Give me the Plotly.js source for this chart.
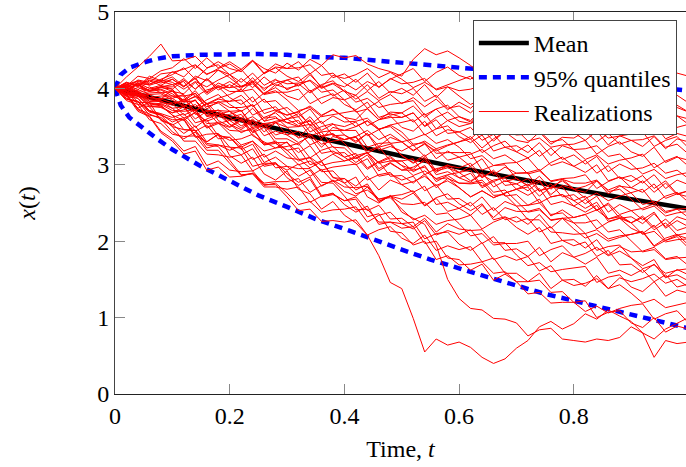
<!DOCTYPE html>
<html>
<head>
<meta charset="utf-8">
<script src="https://cdn.plot.ly/plotly-3.0.1.min.js"></script>
<style>
html,body{margin:0;padding:0;background:#fff;}
#chart{width:686px;height:467px;}
#chart svg text{font-family:'Liberation Serif','Times New Roman',serif !important;}
</style>
</head>
<body>
<div id="chart"></div>
<script>
const meanTime = [0,0.1,0.2,0.3,0.4,0.5,0.6,0.7,0.8,0.9,1.0];
const meanValues = [4.0,3.805,3.619,3.443,3.275,3.115,2.963,2.819,2.681,2.550,2.426];

const quantTime = [0,0.01,0.025,0.05,0.075,0.1,0.15,0.2,0.25,0.3,0.35,0.4,0.45,0.5,0.55,0.6,0.65,0.7,0.75,0.8,0.85,0.9,0.95,1.0];
const upperQuantile = [4.0,4.18,4.27,4.34,4.39,4.42,4.44,4.45,4.45,4.44,4.41,4.40,4.37,4.34,4.31,4.28,4.24,4.20,4.16,4.12,4.08,4.05,4.01,3.97];
const lowerQuantile = [4.0,3.78,3.62,3.47,3.33,3.20,2.98,2.79,2.60,2.45,2.29,2.16,2.02,1.89,1.76,1.64,1.53,1.42,1.31,1.22,1.13,1.04,0.96,0.86];

const simTime = [0,0.02,0.04,0.06,0.08,0.1,0.12,0.14,0.16,0.18,0.2,0.22,0.24,0.26,0.28,0.3,0.32,0.34,0.36,0.38,0.4,0.42,0.44,0.46,0.48,0.5,0.52,0.54,0.56,0.58,0.6,0.62,0.64,0.66,0.68,0.7,0.72,0.74,0.76,0.78,0.8,0.82,0.84,0.86,0.88,0.9,0.92,0.94,0.96,0.98,1.0];

const realizations = [
[4.0,3.92,3.74,3.82,3.58,3.52,3.60,3.38,3.30,3.40,3.12,3.02,3.10,2.88,2.80,2.92,2.68,2.62,2.42,2.52,2.34,2.24,2.08,1.81,1.46,1.38,0.99,0.55,0.72,0.64,0.68,0.61,0.48,0.40,0.46,0.60,0.70,0.88,0.95,0.85,0.92,1.05,0.98,1.1,1.02,0.95,0.8,0.72,0.85,0.92,1.0],
[4.0,3.94,4.08,3.88,3.86,3.98,3.78,3.70,3.80,3.58,3.50,3.60,3.38,3.30,3.22,3.30,3.08,2.96,3.04,2.84,2.76,2.84,2.58,2.50,2.60,2.38,2.30,2.22,1.95,1.5,1.25,1.12,1.1,0.99,0.98,0.93,0.76,0.84,0.86,0.72,0.70,0.68,0.72,0.70,0.74,0.88,0.80,0.48,0.70,0.66,0.68],
[4.0,3.92,3.72,3.64,3.44,3.34,3.18,3.24,2.99,3.05,2.93,2.91,2.92,2.74,2.74,2.58,2.40,2.42,2.26,2.27,2.25,2.28,2.08,2.15,2.19,2.04,1.97,2.08,1.88,1.94,1.89,1.93,1.73,1.78,1.58,1.58,1.47,1.58,1.38,1.49,1.42,1.45,1.51,1.38,1.43,1.32,1.19,1.24,1.13,1.17,1.20],
[4.0,3.86,3.83,3.65,3.62,3.50,3.46,3.45,3.26,3.24,3.06,2.87,2.88,2.71,2.71,2.68,2.71,2.51,2.59,2.63,2.48,2.38,2.46,2.22,2.25,2.17,2.19,1.97,2.00,1.78,1.76,1.62,1.70,1.49,1.57,1.47,1.47,1.49,1.33,1.34,1.20,1.08,1.15,1.06,1.12,1.16,1.18,0.98,1.05,1.09,0.93],
[4.0,3.96,3.93,3.80,3.77,3.65,3.46,3.45,3.28,3.26,3.23,3.22,2.98,3.02,3.02,2.83,2.73,2.81,2.58,2.61,2.53,2.58,2.40,2.47,2.29,2.30,2.19,2.30,2.12,2.23,2.16,2.14,2.15,1.98,1.98,1.82,1.68,1.72,1.60,1.63,1.65,1.67,1.46,1.53,1.56,1.40,1.34,1.47,1.28,1.36,1.32],
[4.0,3.93,3.95,3.88,3.90,3.90,3.90,3.66,3.71,3.71,3.53,3.42,3.49,3.26,3.28,3.19,3.22,3.00,3.05,2.83,2.82,2.67,2.75,2.52,2.59,2.49,2.48,2.51,2.35,2.37,2.23,2.07,2.10,1.95,1.97,1.97,2.00,1.81,1.89,1.94,1.79,1.70,1.79,1.58,1.62,1.55,1.63,1.47,1.56,1.40,1.44],
[4.0,3.92,3.73,3.67,3.60,3.43,3.34,3.43,3.22,3.26,3.19,3.25,3.07,3.14,2.96,2.98,2.85,2.93,2.72,2.80,2.71,2.70,2.72,2.55,2.57,2.42,2.28,2.34,2.22,2.27,2.29,2.34,2.16,2.25,2.31,2.18,2.09,2.18,1.97,2.01,1.94,1.99,1.80,1.88,1.69,1.70,1.59,1.70,1.52,1.63,1.56],
[4.0,3.89,3.87,3.70,3.66,3.56,3.62,3.44,3.52,3.34,3.36,3.23,3.31,3.10,3.18,3.09,3.07,3.09,2.91,2.92,2.76,2.62,2.67,2.55,2.59,2.61,2.66,2.47,2.57,2.62,2.49,2.40,2.49,2.28,2.32,2.25,2.30,2.12,2.19,2.01,2.02,1.91,2.02,1.82,1.93,1.86,1.87,1.92,1.77,1.80,1.68],
[4.0,4.01,3.90,3.92,3.81,3.80,3.65,3.72,3.49,3.56,3.45,3.44,3.46,3.28,3.29,3.14,3.00,3.05,2.93,2.97,2.99,3.01,2.80,2.87,2.90,2.74,2.64,2.72,2.48,2.51,2.43,2.51,2.35,2.44,2.28,2.32,2.22,2.35,2.17,2.30,2.24,2.24,2.28,2.12,2.15,2.01,1.86,1.89,1.76,1.78,1.79],
[4.0,3.90,3.91,3.78,3.79,3.71,3.70,3.72,3.54,3.55,3.40,3.26,3.31,3.18,3.22,3.24,3.28,3.09,3.19,3.24,3.10,3.00,3.08,2.85,2.88,2.80,2.85,2.66,2.74,2.55,2.56,2.46,2.58,2.40,2.52,2.46,2.47,2.50,2.35,2.37,2.24,2.10,2.15,2.03,2.07,2.09,2.12,1.93,2.01,2.06,1.91],
[4.0,4.03,4.07,4.00,4.04,3.99,3.82,3.84,3.70,3.71,3.70,3.71,3.49,3.54,3.56,3.39,3.29,3.37,3.15,3.18,3.10,3.15,2.96,3.04,2.85,2.86,2.76,2.88,2.70,2.82,2.76,2.76,2.80,2.64,2.67,2.53,2.38,2.41,2.28,2.30,2.31,2.35,2.16,2.25,2.30,2.17,2.10,2.21,2.01,2.08,2.03],
[4.0,3.87,3.83,3.71,3.67,3.62,3.67,3.49,3.60,3.66,3.53,3.46,3.57,3.38,3.44,3.39,3.44,3.26,3.33,3.15,3.16,3.03,3.13,2.92,3.02,2.93,2.93,2.97,2.81,2.83,2.70,2.58,2.66,2.57,2.63,2.68,2.71,2.50,2.58,2.61,2.46,2.38,2.47,2.26,2.30,2.24,2.31,2.15,2.24,2.08,2.11],
[4.0,4.01,3.90,3.94,3.95,3.87,3.77,3.85,3.63,3.66,3.58,3.62,3.42,3.49,3.29,3.29,3.16,3.25,3.05,3.14,3.05,3.09,3.16,3.03,3.09,2.99,2.86,2.92,2.82,2.87,2.90,2.93,2.72,2.80,2.83,2.68,2.60,2.69,2.48,2.52,2.46,2.55,2.40,2.50,2.35,2.40,2.28,2.38,2.17,2.27,2.19],
[4.0,3.92,3.92,3.77,3.75,3.68,3.76,3.60,3.70,3.54,3.58,3.48,3.60,3.43,3.55,3.49,3.50,3.53,3.38,3.41,3.28,3.12,3.16,3.02,3.05,3.05,3.08,2.87,2.95,2.98,2.83,2.77,2.90,2.71,2.79,2.75,2.82,2.65,2.75,2.58,2.61,2.49,2.59,2.38,2.48,2.40,2.43,2.49,2.37,2.42,2.31],
[4.0,4.04,3.96,4.02,3.94,3.96,3.84,3.94,3.73,3.83,3.75,3.75,3.78,3.61,3.63,3.49,3.35,3.40,3.27,3.31,3.33,3.36,3.15,3.23,3.27,3.12,3.03,3.13,2.92,2.96,2.90,2.98,2.83,2.93,2.78,2.82,2.73,2.85,2.68,2.81,2.76,2.76,2.80,2.65,2.68,2.55,2.41,2.46,2.33,2.37,2.39],
[4.0,3.92,3.95,3.83,3.86,3.81,3.83,3.89,3.76,3.81,3.70,3.57,3.63,3.52,3.57,3.60,3.63,3.43,3.50,3.54,3.39,3.31,3.41,3.19,3.24,3.18,3.26,3.11,3.21,3.06,3.10,2.98,3.08,2.87,2.97,2.89,2.90,2.94,2.78,2.81,2.68,2.56,2.63,2.53,2.59,2.63,2.68,2.49,2.59,2.64,2.51],
[4.0,3.98,3.97,3.85,3.84,3.74,3.61,3.68,3.57,3.63,3.66,3.71,3.52,3.62,3.68,3.55,3.50,3.63,3.45,3.53,3.50,3.56,3.38,3.46,3.28,3.30,3.18,3.28,3.08,3.18,3.10,3.14,3.20,3.08,3.13,3.03,2.88,2.92,2.79,2.82,2.83,2.87,2.69,2.78,2.84,2.70,2.64,2.75,2.56,2.62,2.58],
[4.0,3.96,4.01,3.97,4.02,4.05,4.09,3.89,3.98,4.02,3.88,3.79,3.89,3.67,3.72,3.65,3.70,3.51,3.57,3.38,3.39,3.29,3.41,3.24,3.36,3.30,3.34,3.40,3.28,3.33,3.23,3.08,3.12,2.99,3.02,3.03,3.09,2.92,3.03,3.10,2.98,2.90,3.00,2.79,2.84,2.78,2.86,2.69,2.79,2.62,2.66],
[4.0,4.02,3.92,3.96,3.98,3.90,3.85,3.97,3.79,3.86,3.83,3.91,3.76,3.86,3.71,3.75,3.63,3.73,3.54,3.64,3.56,3.57,3.61,3.47,3.50,3.37,3.25,3.31,3.21,3.26,3.30,3.34,3.16,3.25,3.31,3.17,3.09,3.19,2.99,3.04,2.98,3.06,2.89,2.99,2.82,2.86,2.76,2.87,2.69,2.80,2.74],
[4.0,3.94,3.96,3.83,3.83,3.78,3.86,3.71,3.81,3.66,3.70,3.61,3.74,3.57,3.70,3.65,3.69,3.77,3.65,3.72,3.62,3.50,3.57,3.46,3.52,3.56,3.59,3.39,3.47,3.51,3.37,3.29,3.39,3.18,3.23,3.17,3.26,3.11,3.22,3.07,3.13,3.01,3.11,2.91,3.01,2.94,2.96,3.02,2.89,2.93,2.82],
[4.0,4.07,4.03,4.11,4.07,4.12,4.02,4.14,3.95,4.07,4.01,4.03,4.08,3.93,3.97,3.85,3.71,3.75,3.63,3.66,3.68,3.71,3.51,3.59,3.64,3.49,3.44,3.57,3.38,3.46,3.43,3.49,3.32,3.40,3.23,3.25,3.16,3.29,3.12,3.25,3.20,3.21,3.25,3.11,3.14,3.01,2.88,2.94,2.82,2.87,2.90],
[4.0,4.15,4.28,4.42,4.58,4.36,4.37,4.42,4.27,4.31,4.18,4.02,4.06,3.92,3.95,3.95,3.99,3.80,3.88,3.93,3.79,3.72,3.82,3.62,3.67,3.62,3.68,3.50,3.59,3.41,3.43,3.34,3.47,3.31,3.44,3.39,3.40,3.44,3.30,3.33,3.20,3.07,3.13,3.01,3.06,3.09,3.14,2.96,3.05,3.11,2.98],
[4.0,4.02,4.04,3.97,3.99,3.93,3.82,3.90,3.80,3.87,3.92,3.99,3.82,3.94,4.01,3.90,3.85,3.98,3.80,3.88,3.85,3.91,3.74,3.83,3.65,3.68,3.56,3.67,3.47,3.58,3.50,3.54,3.61,3.50,3.56,3.46,3.31,3.35,3.23,3.26,3.27,3.32,3.14,3.24,3.30,3.17,3.11,3.23,3.03,3.10,3.06],
[4.0,4.08,4.02,4.16,4.10,4.22,4.15,4.30,4.18,4.26,4.32,4.22,4.36,4.26,4.20,4.33,4.24,4.38,4.30,4.44,4.40,4.43,4.32,4.26,4.22,4.16,4.38,4.52,4.44,4.49,4.40,4.30,4.18,4.26,4.08,4.12,3.98,4.06,3.90,3.94,3.80,3.86,3.72,3.80,3.66,3.72,3.58,3.68,3.55,3.64,3.60],
[4.0,4.06,3.98,4.10,4.04,4.12,4.02,4.16,4.10,4.24,4.18,4.08,4.20,4.04,4.12,3.98,4.06,3.94,4.04,3.90,3.98,3.86,3.96,3.84,3.92,3.80,3.88,3.76,3.86,3.72,3.82,3.74,3.88,3.80,3.94,3.86,3.98,3.88,4.02,3.92,3.98,4.06,3.94,3.88,4.00,4.08,3.98,4.12,4.06,4.20,4.16],
[4.0,3.98,4.06,3.97,4.02,4.02,4.13,3.99,4.12,3.98,4.05,3.96,4.09,3.92,4.05,4.00,4.04,4.11,4.00,4.06,3.96,3.82,3.87,3.75,3.79,3.81,3.84,3.65,3.73,3.78,3.63,3.58,3.72,3.54,3.63,3.60,3.66,3.49,3.57,3.40,3.42,3.32,3.44,3.26,3.38,3.32,3.33,3.38,3.23,3.27,3.14],
[4.0,3.96,3.79,3.76,3.59,3.53,3.41,3.51,3.30,3.40,3.32,3.34,3.40,3.26,3.31,3.19,3.05,3.10,2.99,3.03,3.05,3.11,2.94,3.04,3.11,2.99,2.94,3.08,2.90,2.99,2.96,3.02,2.84,2.91,2.73,2.75,2.66,2.78,2.61,2.73,2.68,2.72,2.79,2.67,2.73,2.63,2.48,2.52,2.39,2.42,2.43],
[4.0,4.00,4.11,4.08,4.19,4.21,4.25,4.31,4.19,4.24,4.14,4.02,4.10,4.00,4.07,4.11,4.15,3.96,4.05,4.10,3.96,3.91,4.05,3.87,3.96,3.93,4.00,3.83,3.91,3.74,3.77,3.68,3.82,3.65,3.79,3.74,3.76,3.80,3.66,3.69,3.57,3.43,3.47,3.35,3.38,3.40,3.43,3.24,3.32,3.37,3.22],
[4.0,4.05,4.10,4.06,4.11,4.08,3.99,4.09,4.02,4.11,4.18,4.25,4.08,4.20,4.27,4.16,4.09,4.20,4.01,4.07,4.02,4.12,3.97,4.09,3.94,4.00,3.91,4.05,3.88,4.02,3.97,3.99,4.04,3.89,3.93,3.81,3.67,3.71,3.59,3.62,3.64,3.68,3.48,3.57,3.61,3.47,3.41,3.53,3.34,3.41,3.37],
[4.0,3.98,4.06,4.05,4.12,4.18,4.27,4.12,4.26,4.35,4.26,4.22,4.36,4.19,4.28,4.26,4.35,4.19,4.30,4.14,4.19,4.08,4.20,4.01,4.13,4.06,4.08,4.13,3.98,4.02,3.90,3.79,3.86,3.77,3.83,3.88,3.93,3.75,3.86,3.92,3.79,3.72,3.83,3.62,3.68,3.63,3.71,3.55,3.65,3.49,3.53],
[4.0,4.03,3.94,3.99,4.02,3.96,3.93,4.08,3.92,4.02,4.01,4.13,4.01,4.15,4.03,4.11,4.03,4.18,4.02,4.17,4.13,4.18,4.26,4.14,4.21,4.12,4.01,4.08,3.99,4.05,4.10,4.16,3.98,4.09,4.15,4.03,3.96,4.06,3.86,3.92,3.87,3.95,3.79,3.89,3.74,3.78,3.68,3.80,3.63,3.75,3.69],
[4.0,4.03,4.16,4.13,4.23,4.27,4.39,4.26,4.40,4.27,4.35,4.25,4.37,4.20,4.32,4.26,4.27,4.31,4.17,4.20,4.07,3.98,4.09,4.02,4.12,4.19,4.26,4.09,4.21,4.28,4.17,4.12,4.24,4.06,4.13,4.10,4.17,4.00,4.08,3.91,3.94,3.84,3.97,3.79,3.92,3.86,3.90,3.97,3.85,3.91,3.81],
[4.0,3.91,3.70,3.63,3.42,3.31,3.14,3.18,2.93,2.97,2.84,2.85,2.89,2.73,2.76,2.63,2.48,2.52,2.38,2.41,2.42,2.45,2.25,2.34,2.38,2.23,2.16,2.27,2.08,2.14,2.09,2.15,1.97,2.06,1.88,1.90,1.80,1.92,1.73,1.85,1.79,1.84,1.92,1.81,1.87,1.78,1.64,1.69,1.58,1.62,1.64],
[4.0,3.84,3.79,3.59,3.54,3.40,3.37,3.38,3.19,3.19,3.02,2.86,2.89,2.76,2.78,2.78,2.82,2.64,2.73,2.79,2.65,2.59,2.71,2.52,2.59,2.55,2.63,2.46,2.56,2.39,2.43,2.34,2.47,2.31,2.44,2.39,2.39,2.43,2.27,2.30,2.16,2.04,2.10,2.00,2.05,2.09,2.13,1.94,2.04,2.09,1.95],
[4.0,4.04,4.09,4.04,4.09,4.05,3.90,3.93,3.80,3.82,3.83,3.85,3.65,3.72,3.76,3.60,3.51,3.59,3.37,3.40,3.33,3.37,3.18,3.24,3.05,3.05,2.91,2.99,2.78,2.86,2.76,2.75,2.77,2.60,2.61,2.46,2.28,2.28,2.12,2.11,2.09,2.10,1.88,1.93,1.95,1.78,1.68,1.76,1.53,1.56,1.48],
[4.0,3.86,3.82,3.69,3.65,3.59,3.59,3.36,3.40,3.41,3.23,3.13,3.21,2.98,3.01,2.93,3.01,2.85,2.94,2.78,2.82,2.72,2.85,2.67,2.80,2.74,2.78,2.85,2.73,2.79,2.70,2.58,2.66,2.57,2.63,2.68,2.75,2.59,2.71,2.79,2.68,2.64,2.79,2.62,2.72,2.70,2.79,2.64,2.76,2.61,2.66],
[4.0,4.00,3.89,3.92,3.93,3.84,3.76,3.85,3.64,3.68,3.62,3.66,3.47,3.53,3.34,3.34,3.26,3.40,3.23,3.37,3.33,3.37,3.45,3.33,3.40,3.30,3.19,3.27,3.18,3.25,3.30,3.37,3.22,3.34,3.43,3.32,3.29,3.43,3.27,3.36,3.35,3.44,3.30,3.41,3.27,3.32,3.24,3.37,3.21,3.34,3.30],
[4.0,3.93,3.95,3.81,3.80,3.74,3.76,3.55,3.59,3.38,3.36,3.20,3.27,3.03,3.10,2.98,2.95,2.95,2.77,2.76,2.59,2.41,2.42,2.25,2.25,2.23,2.25,2.03,2.10,2.12,1.96,1.88,1.98,1.76,1.81,1.75,1.80,1.61,1.68,1.49,1.50,1.41,1.55,1.38,1.52,1.47,1.51,1.57,1.45,1.50,1.40],
[4.0,4.08,4.04,4.13,4.09,4.15,4.03,4.13,3.94,4.04,3.96,3.96,3.99,3.82,3.84,3.70,3.54,3.57,3.43,3.45,3.45,3.45,3.23,3.28,3.29,3.12,3.02,3.10,2.87,2.91,2.83,2.89,2.70,2.78,2.59,2.61,2.47,2.55,2.33,2.41,2.31,2.35,2.41,2.29,2.34,2.24,2.09,2.13,1.99,2.02,2.03],
[4.0,3.90,3.90,3.76,3.76,3.68,3.72,3.79,3.66,3.72,3.62,3.51,3.58,3.49,3.55,3.60,3.67,3.52,3.64,3.73,3.62,3.59,3.74,3.59,3.69,3.68,3.77,3.62,3.73,3.58,3.63,3.56,3.71,3.55,3.70,3.67,3.70,3.76,3.63,3.68,3.57,3.46,3.53,3.44,3.50,3.55,3.62,3.45,3.57,3.64,3.53],
[4.0,3.93,3.87,3.71,3.65,3.50,3.31,3.31,3.14,3.13,3.10,3.13,2.92,3.00,3.03,2.88,2.77,2.84,2.60,2.62,2.53,2.55,2.32,2.36,2.13,2.11,1.95,2.00,1.76,1.81,1.69,1.70,1.73,1.58,1.60,1.47,1.31,1.33,1.19,1.20,1.20,1.22,1.00,1.07,1.09,0.93,0.87,1.00,0.81,0.89,0.85],
[4.0,3.92,3.93,3.86,3.87,3.87,3.92,3.75,3.85,3.92,3.79,3.70,3.79,3.57,3.61,3.55,3.58,3.38,3.43,3.23,3.22,3.08,3.16,2.95,3.03,2.93,2.97,3.05,2.93,3.00,2.90,2.79,2.87,2.78,2.84,2.89,2.89,2.66,2.70,2.71,2.53,2.43,2.51,2.29,2.32,2.24,2.33,2.18,2.29,2.14,2.19],
[4.0,3.97,3.82,3.81,3.78,3.65,3.58,3.69,3.48,3.54,3.49,3.58,3.43,3.54,3.39,3.44,3.36,3.50,3.34,3.49,3.45,3.50,3.58,3.46,3.52,3.43,3.27,3.29,3.15,3.16,3.16,3.16,2.93,2.99,3.00,2.82,2.72,2.80,2.58,2.61,2.53,2.59,2.41,2.48,2.30,2.32,2.23,2.36,2.19,2.32,2.27],
[4.0,3.98,4.05,3.96,4.01,3.99,4.11,3.99,4.13,4.01,4.09,4.00,4.14,3.97,4.11,4.06,4.07,4.10,3.95,3.98,3.85,3.69,3.73,3.59,3.62,3.62,3.68,3.51,3.62,3.69,3.57,3.54,3.68,3.52,3.61,3.60,3.71,3.58,3.70,3.57,3.64,3.57,3.73,3.58,3.73,3.71,3.75,3.83,3.72,3.78,3.69]
];

const FONT = 'Liberation Serif';
const traces = [];
traces.push({x: meanTime, y: meanValues, mode: 'lines', name: 'Mean', line: {color: '#000000', width: 4.5}, hoverinfo: 'skip'});
traces.push({x: quantTime, y: upperQuantile, mode: 'lines', name: '95% quantiles', line: {color: '#0000ff', width: 4.5, dash: '8px,6px'}, hoverinfo: 'skip'});
traces.push({x: quantTime, y: lowerQuantile, mode: 'lines', name: '95% quantiles', showlegend: false, line: {color: '#0000ff', width: 4.5, dash: '8px,6px'}, hoverinfo: 'skip'});
realizations.forEach(function (r, i) {
  traces.push({x: simTime, y: r, mode: 'lines', name: 'Realizations', showlegend: i === 0, line: {color: '#ff0000', width: 1}, hoverinfo: 'skip'});
});

const layout = {
  width: 686, height: 467,
  margin: {l: 115, r: 0, t: 12, b: 73},
  font: {family: FONT, size: 24, color: '#000000'},
  showlegend: true,
  legend: {x: 0.984, y: 0.979, xanchor: 'right', yanchor: 'top', bordercolor: '#444444', borderwidth: 1, font: {family: FONT, size: 24, color: '#000000'}, itemwidth: 50},
  xaxis: {range: [0, 0.9956], tickvals: [0, 0.2, 0.4, 0.6, 0.8], ticktext: ['0', '0.2', '0.4', '0.6', '0.8'], ticks: 'inside', ticklen: 10, tickcolor: '#888888', tickwidth: 1, showline: true, linecolor: '#222222', linewidth: 1, mirror: 'ticks', showgrid: false, zeroline: false, ticklabeloverflow: 'allow', tickfont: {family: FONT, size: 24, color: '#000000'}, title: {text: 'Time, <i>t</i>', font: {family: FONT, size: 24, color: '#000000'}, standoff: 12}},
  yaxis: {range: [0, 5], tickvals: [0, 1, 2, 3, 4, 5], ticks: 'inside', ticklen: 10, tickcolor: '#888888', tickwidth: 1, showline: true, linecolor: '#444444', linewidth: 1, mirror: false, showgrid: false, zeroline: false, ticklabeloverflow: 'allow', tickfont: {family: FONT, size: 24, color: '#000000'}, title: {text: '<i>x</i>(<i>t</i>)', font: {family: FONT, size: 24, color: '#000000'}, standoff: 54}}
};

Plotly.newPlot('chart', traces, layout, {staticPlot: true, displayModeBar: false});
</script>
</body>
</html>
